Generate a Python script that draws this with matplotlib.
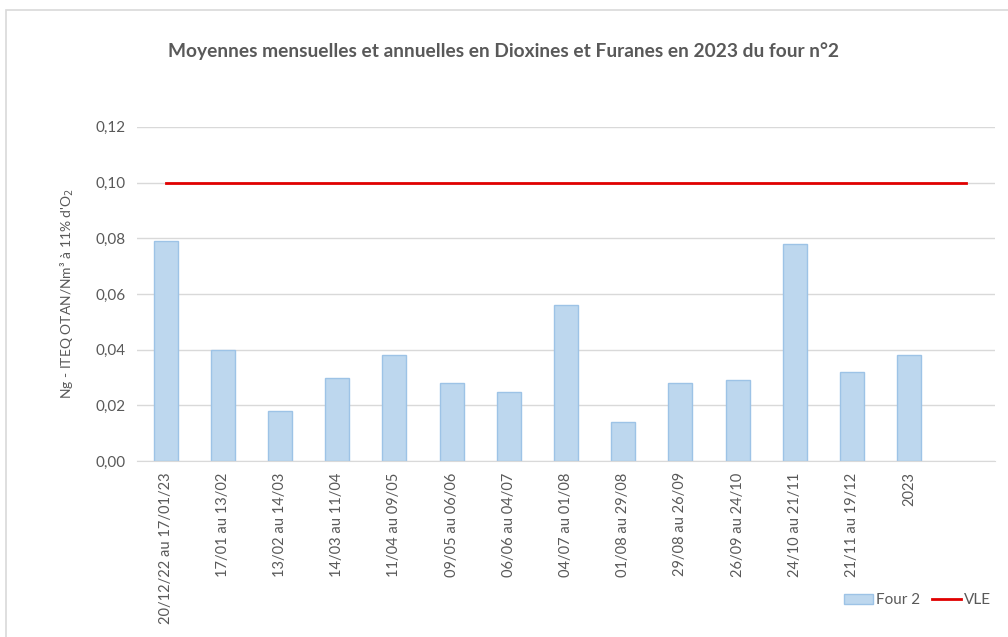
import matplotlib
matplotlib.use("Agg")
import matplotlib.pyplot as plt
from matplotlib.patches import Rectangle
import numpy as np

periodes = ["20/12/22 au 17/01/23", "17/01 au 13/02", "13/02 au 14/03", "14/03 au 11/04",
            "11/04 au 09/05", "09/05 au 06/06", "06/06 au 04/07", "04/07 au 01/08",
            "01/08 au 29/08", "29/08 au 26/09", "26/09 au 24/10", "24/10 au 21/11",
            "21/11 au 19/12", "2023", ""]
four2 = [0.079, 0.040, 0.018, 0.030, 0.038, 0.028, 0.025, 0.056,
         0.014, 0.028, 0.029, 0.078, 0.032, 0.038]
vle = [0.10] * 15
yticks = [0.0, 0.02, 0.04, 0.06, 0.08, 0.10, 0.12]

plt.rcParams['font.family'] = ['Lato', 'DejaVu Sans']
grey = "#595959"

fig = plt.figure(figsize=(10.08, 6.37), dpi=100)
ax = fig.add_axes([0.136, 0.276, 0.851, 0.525])

x = np.arange(len(periodes))
bars = ax.bar(x[:len(four2)], four2, width=0.42, color="#bdd7ee", edgecolor="#9dc3e6",
              linewidth=1, label="Four 2", zorder=2)
line, = ax.plot(x, vle, color="#e00000", linewidth=2, label="VLE", zorder=3)

ax.set_xlim(-0.5, len(periodes) - 0.5)
ax.set_ylim(0, 0.12)
ax.set_yticks(yticks)
ax.set_yticklabels([f"{v:.2f}".replace(".", ",") for v in yticks], fontsize=11, color=grey)
ax.set_xticks(x)
ax.set_xticklabels(periodes, rotation=90, fontsize=10.5, color=grey)
ax.tick_params(length=0, pad=8)
ax.grid(axis="y", color="#d9d9d9", linewidth=1, zorder=0)
for s in ["top", "right", "left"]:
    ax.spines[s].set_visible(False)
ax.spines["bottom"].set_color("#d9d9d9")

ax.set_ylabel("Ng - ITEQ OTAN/Nm³ à 11% d'O$_2$", fontsize=10, color=grey, labelpad=14)

fig.text(0.5, 0.92, "Moyennes mensuelles et annuelles en Dioxines et Furanes en 2023 du four n°2",
         ha="center", va="center", fontsize=13.8, fontweight="bold", color=grey)

fig.legend([bars, line], ["Four 2", "VLE"], loc="lower right", bbox_to_anchor=(0.997, 0.025),
           ncol=2, frameon=False, fontsize=11, labelcolor=grey, handlelength=1.9,
           handleheight=0.6, columnspacing=0.8, handletextpad=0.2)

fig.patches.append(Rectangle((0.006, -0.1), 1.1, 1.084, transform=fig.transFigure,
                             fill=False, edgecolor="#d9d9d9", linewidth=1.2))

fig.savefig("out.png", dpi=100)
